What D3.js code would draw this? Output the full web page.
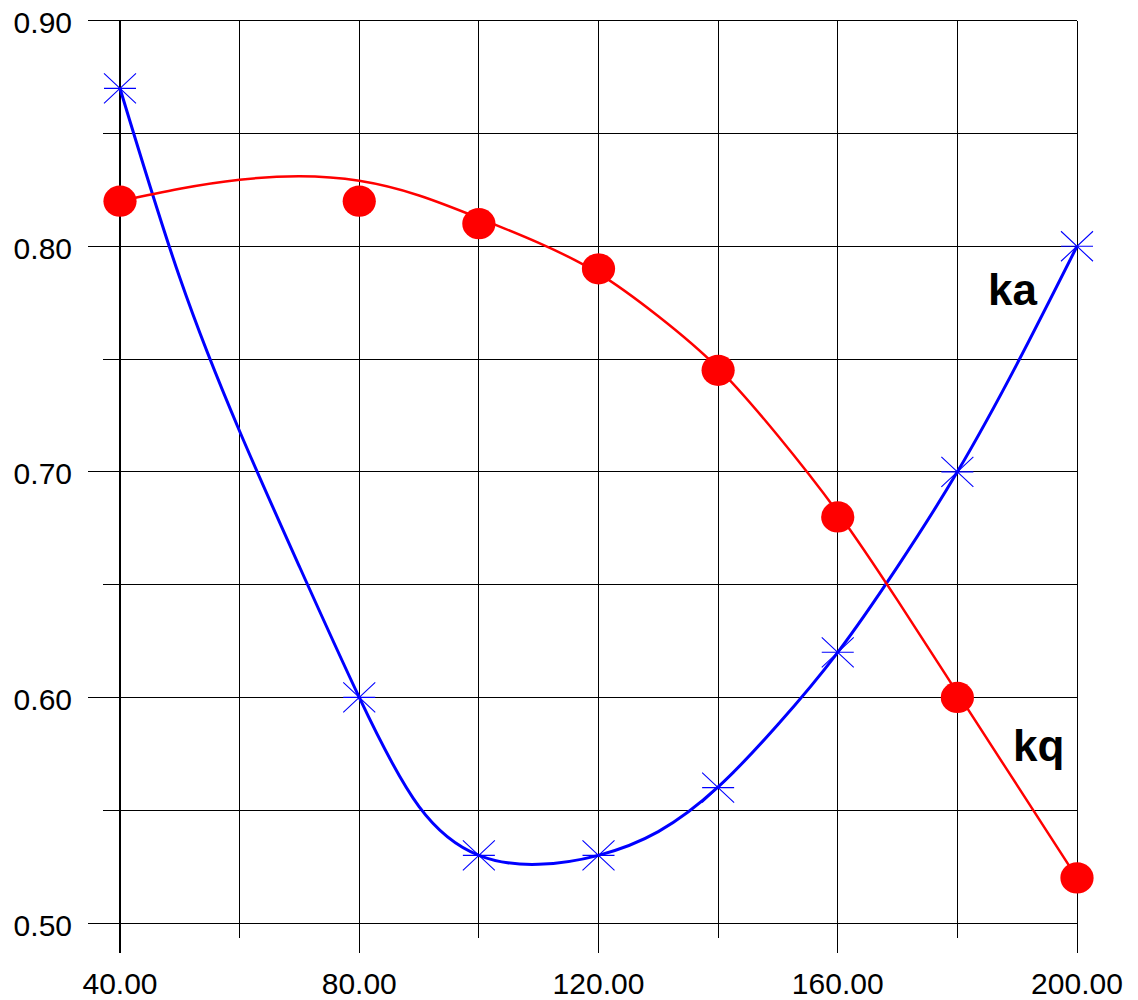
<!DOCTYPE html>
<html><head><meta charset="utf-8">
<script src="https://cdn.jsdelivr.net/npm/d3@7"></script>
<style>body{margin:0;background:#fff}svg{display:block}</style>
</head><body>
<script>
// Data
const xTicksMajor = [40, 80, 120, 160, 200];
const xGrid = [40, 60, 80, 100, 120, 140, 160, 180, 200];
const yTicksMajor = [0.50, 0.60, 0.70, 0.80, 0.90];
const yGrid = [0.50, 0.55, 0.60, 0.65, 0.70, 0.75, 0.80, 0.85, 0.90];

// kq (red) measured points
const kqX = [40, 80, 100, 120, 140, 160, 180, 200];
const kqY = [0.82, 0.82, 0.81, 0.79, 0.745, 0.68, 0.60, 0.52];
// ka (blue) measured points
const kaX = [40, 80, 100, 120, 140, 160, 180, 200];
const kaY = [0.87, 0.60, 0.53, 0.53, 0.56, 0.62, 0.70, 0.80];

// fitted curves
const fitX = [40, 50, 60, 70, 80, 90, 100, 110, 120, 130, 140, 150, 160, 170, 180, 190, 200];
const kqFit = [0.820, 0.8255, 0.8295, 0.831, 0.829, 0.8225, 0.8125, 0.8015, 0.788, 0.769, 0.746, 0.716, 0.682, 0.643, 0.602, 0.561, 0.520];
const kaFit = [0.870, 0.786, 0.718, 0.658, 0.600, 0.5516, 0.530, 0.526, 0.530, 0.5405, 0.5603, 0.588, 0.620, 0.658, 0.700, 0.748, 0.800];

const W = 1138, H = 1000;
const x = d3.scaleLinear().domain([40, 200]).range([120, 1077]);
const y = d3.scaleLinear().domain([0.50, 0.90]).range([923, 20.7]);

const svg = d3.select("body").append("svg").attr("width", W).attr("height", H);
const font = "'Liberation Sans', Arial, sans-serif";

// grid: horizontal
const g = svg.append("g").attr("shape-rendering", "crispEdges");
g.selectAll("line.h").data(yGrid).enter().append("line")
  .attr("x1", d => yTicksMajor.some(t => Math.abs(t - d) < 1e-9) ? 88 : 103)
  .attr("x2", x(200))
  .attr("y1", d => y(d)).attr("y2", d => y(d))
  .attr("stroke", "#000").attr("stroke-width", 1);
// grid: vertical
g.selectAll("line.v").data(xGrid).enter().append("line")
  .attr("x1", d => x(d)).attr("x2", d => x(d))
  .attr("y1", y(0.90))
  .attr("y2", d => xTicksMajor.includes(d) ? 953 : 938)
  .attr("stroke", "#000").attr("stroke-width", d => d === 40 ? 1.5 : 1);

// axis labels
svg.selectAll("text.yl").data(yTicksMajor).enter().append("text")
  .attr("x", 72).attr("y", d => y(d) + 12.5)
  .attr("text-anchor", "end").attr("font-family", font).attr("font-size", 30)
  .text(d => d.toFixed(2));
svg.selectAll("text.xl").data(xTicksMajor).enter().append("text")
  .attr("x", d => x(d)).attr("y", 994)
  .attr("text-anchor", "middle").attr("font-family", font).attr("font-size", 30)
  .text(d => d.toFixed(2));

// curves
const line = d3.line().x(d => x(d[0])).y(d => y(d[1])).curve(d3.curveNatural);
svg.append("path").datum(fitX.map((v, i) => [v, kaFit[i]]))
  .attr("d", line).attr("fill", "none").attr("stroke", "#0000ff").attr("stroke-width", 3);
svg.append("path").datum(fitX.map((v, i) => [v, kqFit[i]]))
  .attr("d", line).attr("fill", "none").attr("stroke", "#ff0000").attr("stroke-width", 2.5);

// red dots
svg.selectAll("ellipse.kq").data(kqX.map((v, i) => [v, kqY[i]])).enter().append("ellipse")
  .attr("cx", d => x(d[0])).attr("cy", d => y(d[1]))
  .attr("rx", 16.6).attr("ry", 15.6).attr("fill", "#ff0000");

// blue asterisks
const star = svg.selectAll("g.ka").data(kaX.map((v, i) => [v, kaY[i]])).enter().append("g")
  .attr("transform", d => `translate(${x(d[0])},${y(d[1])})`);
star.append("path")
  .attr("d", "M-16,0H16M-16,-15L16,15M-16,15L16,-15")
  .attr("stroke", "#0000ff").attr("stroke-width", 1.1).attr("fill", "none");

// series labels
svg.append("text").attr("x", 988).attr("y", 305)
  .attr("font-family", font).attr("font-weight", "bold").attr("font-size", 44)
  .text("ka");
svg.append("text").attr("x", 1013).attr("y", 761)
  .attr("font-family", font).attr("font-weight", "bold").attr("font-size", 44)
  .text("kq");
</script>
</body></html>
